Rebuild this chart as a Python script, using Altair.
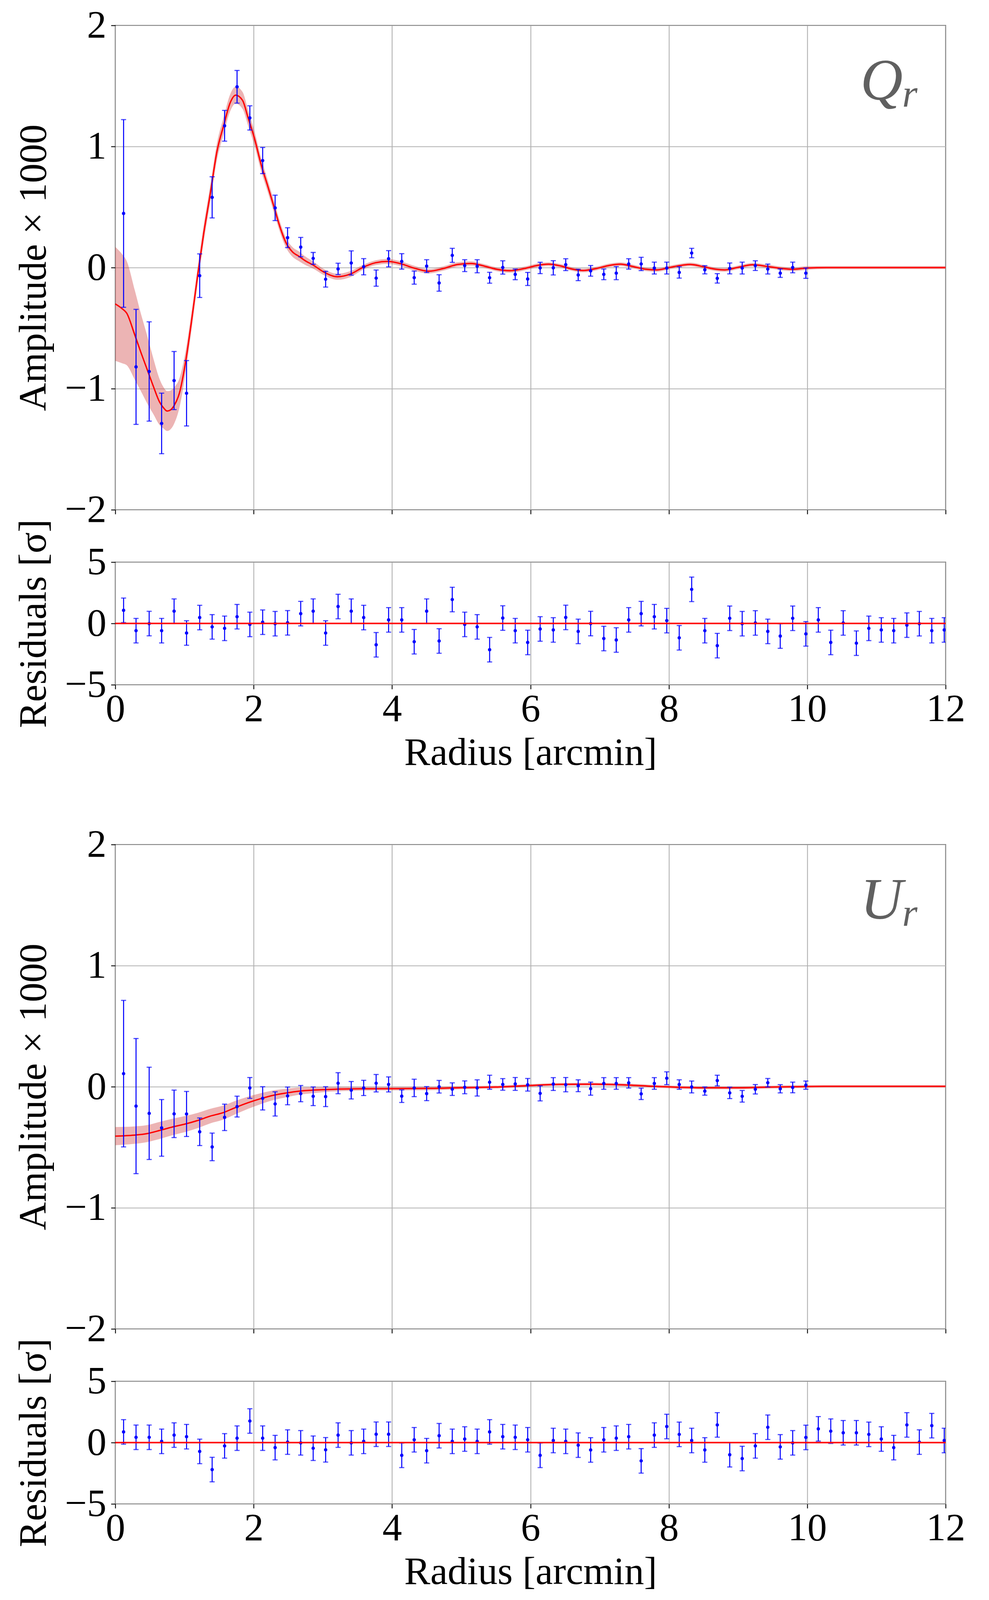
import altair as alt
import pandas as pd

# ---------------- data ----------------
radius = [0.12, 0.30, 0.49, 0.67, 0.85, 1.03, 1.22, 1.40, 1.58, 1.76,
          1.945, 2.13, 2.31, 2.49, 2.68, 2.86, 3.04, 3.22, 3.41, 3.59,
          3.77, 3.95, 4.14, 4.32, 4.50, 4.68, 4.87, 5.05, 5.23, 5.41,
          5.60, 5.78, 5.96, 6.14, 6.33, 6.51, 6.69, 6.87, 7.06, 7.24,
          7.42, 7.60, 7.79, 7.97, 8.15, 8.33, 8.52, 8.70, 8.88, 9.06,
          9.25, 9.43, 9.61, 9.79, 9.98, 10.16, 10.34, 10.52, 10.71, 10.89,
          11.07, 11.25, 11.44, 11.62, 11.80, 11.98]

q_amp = [0.447, -0.82, -0.858, -1.287, -0.933, -1.038, -0.067, 0.58, 1.171, 1.493,
         1.236, 0.884, 0.493, 0.247, 0.169, 0.076, -0.096, -0.011, 0.038, 0.007,
         -0.087, 0.073, 0.051, -0.083, 0.012, -0.127, 0.101, 0.016, 0.011, -0.084,
         0.001, -0.056, -0.094, -0.003, -0.002, 0.024, -0.061, -0.027, -0.056, -0.046,
         0.03, 0.03, -0.004, -0.004, -0.04, 0.12, -0.018, -0.089, -0.007, -0.004,
         0.016, -0.012, -0.046, 0.001, -0.046]
q_err = [0.775, 0.475, 0.41, 0.25, 0.24, 0.27, 0.18, 0.17, 0.127, 0.135,
         0.1, 0.108, 0.105, 0.082, 0.08, 0.049, 0.065, 0.047, 0.1, 0.067,
         0.067, 0.067, 0.064, 0.054, 0.053, 0.068, 0.058, 0.049, 0.054, 0.045,
         0.055, 0.044, 0.054, 0.047, 0.059, 0.049, 0.047, 0.044, 0.044, 0.054,
         0.043, 0.055, 0.049, 0.049, 0.047, 0.039, 0.034, 0.039, 0.045, 0.049,
         0.04, 0.041, 0.035, 0.044, 0.043]
q_res = [1.07, -0.59, -0.01, -0.59, 1.0, -0.78, 0.48, -0.28, -0.4, 0.55,
         -0.08, 0.1, -0.02, 0.05, 0.8, 1.0, -0.78, 1.38, 1.0, 0.48,
         -1.74, 0.29, 0.29, -1.49, 1.0, -1.43, 1.95, -0.08, -0.28, -2.14,
         0.44, -0.59, -1.55, -0.45, -0.53, 0.49, -0.65, -0.01, -1.23, -1.35,
         0.29, 0.8, 0.55, 0.23, -1.17, 2.78, -0.59, -1.81, 0.42, -0.02,
         0.04, -0.65, -1.03, 0.42, -0.85, 0.29, -1.55, 0.04, -1.61, -0.4,
         -0.53, -0.59, -0.14, -0.02, -0.59, -0.53]

u_amp = [0.108, -0.16, -0.22, -0.34, -0.224, -0.225, -0.372, -0.497, -0.253, -0.164,
         -0.01, -0.096, -0.142, -0.076, -0.057, -0.079, -0.082, 0.029, -0.029, -0.01,
         0.029, 0.019, -0.078, -0.01, -0.057, 0.0, -0.02, -0.005, -0.01, 0.037,
         0.019, 0.023, 0.016, -0.055, 0.022, 0.017, 0.008, -0.016, 0.027, 0.027,
         0.032, -0.059, 0.027, 0.07, 0.018, -0.002, -0.036, 0.051, -0.051, -0.079,
         -0.021, 0.033, -0.017, -0.006, 0.013]
u_err = [0.605, 0.558, 0.381, 0.234, 0.196, 0.186, 0.114, 0.114, 0.109, 0.086,
         0.086, 0.096, 0.1, 0.073, 0.067, 0.077, 0.082, 0.087, 0.072, 0.063,
         0.072, 0.062, 0.052, 0.072, 0.058, 0.052, 0.052, 0.053, 0.067, 0.058,
         0.048, 0.053, 0.052, 0.062, 0.053, 0.059, 0.049, 0.054, 0.048, 0.048,
         0.043, 0.047, 0.048, 0.053, 0.039, 0.049, 0.034, 0.044, 0.047, 0.048,
         0.039, 0.035, 0.034, 0.044, 0.034]
u_res = [0.87, 0.43, 0.43, 0.1, 0.61, 0.48, -0.72, -2.2, -0.27, 0.36,
         1.76, 0.36, -0.41, 0.04, -0.02, -0.46, -0.59, 0.61, -0.02, 0.1,
         0.68, 0.68, -1.04, 0.23, -0.66, 0.56, 0.1, 0.29, 0.1, 0.87,
         0.48, 0.43, 0.23, -1.04, 0.17, 0.1, -0.21, -0.6, 0.23, 0.36,
         0.48, -1.49, 0.61, 1.31, 0.67, 0.17, -0.6, 1.44, -0.99, -1.3,
         -0.27, 1.25, -0.35, -0.02, 0.42, 1.12, 0.93, 0.8, 0.8, 0.67,
         0.29, -0.41, 1.44, 0.04, 1.38, 0.17]

# best-fit model curves and their uncertainty half-widths
q_model_r = [0.0, 0.1, 0.165, 0.28, 0.37, 0.46, 0.55, 0.64, 0.70, 0.75,
             0.80, 0.85, 0.93, 1.01, 1.10, 1.19, 1.28, 1.37, 1.47, 1.57,
             1.66, 1.74, 1.84, 1.92, 2.01, 2.11, 2.20, 2.30, 2.38, 2.47,
             2.56, 2.66, 2.75, 2.85, 3.03, 3.21, 3.40, 3.58, 3.76, 3.94,
             4.13, 4.31, 4.53, 4.74, 4.95, 5.14, 5.33, 5.51, 5.70, 5.91,
             6.10, 6.26, 6.44, 6.60, 6.76, 6.95, 7.14, 7.30, 7.48, 7.67,
             7.83, 8.02, 8.20, 8.31, 8.50, 8.68, 8.81, 9.00, 9.21, 9.43,
             9.64, 9.80, 10.01, 10.28, 11.0, 12.0]
q_model = [-0.30, -0.34, -0.376, -0.553, -0.70, -0.84, -0.98, -1.11, -1.16, -1.185,
           -1.175, -1.14, -1.03, -0.80, -0.45, -0.067, 0.29, 0.60, 0.96, 1.18,
           1.36, 1.424, 1.38, 1.236, 1.07, 0.847, 0.68, 0.49, 0.336, 0.202,
           0.13, 0.091, 0.055, 0.024, -0.042, -0.076, -0.053, 0.002, 0.04, 0.051,
           0.031, -0.003, -0.03, -0.008, 0.026, 0.034, 0.013, -0.014, -0.026, -0.008,
           0.018, 0.028, 0.013, -0.012, -0.024, -0.008, 0.018, 0.028, 0.009, -0.014,
           -0.019, 0.002, 0.020, 0.026, 0.007, -0.014, -0.019, 0.002, 0.023, 0.009,
           -0.008, -0.014, -0.003, 0.0, 0.0, 0.0]
q_band = [0.47, 0.45, 0.43, 0.37, 0.32, 0.28, 0.23, 0.19, 0.17, 0.165,
          0.16, 0.15, 0.12, 0.09, 0.075, 0.07, 0.07, 0.07, 0.07, 0.07,
          0.07, 0.07, 0.07, 0.065, 0.06, 0.055, 0.05, 0.05, 0.045, 0.04,
          0.04, 0.04, 0.035, 0.03, 0.025, 0.025, 0.025, 0.02, 0.02, 0.02,
          0.02, 0.02, 0.018, 0.018, 0.018, 0.018, 0.016, 0.016, 0.016, 0.016,
          0.016, 0.015, 0.015, 0.015, 0.015, 0.015, 0.015, 0.015, 0.015, 0.015,
          0.015, 0.015, 0.015, 0.015, 0.015, 0.015, 0.015, 0.015, 0.015, 0.015,
          0.015, 0.015, 0.015, 0.012, 0.012, 0.012]

u_model_r = [0.0, 0.27, 0.46, 0.66, 0.85, 1.01, 1.19, 1.37, 1.56, 1.74,
             1.92, 2.10, 2.29, 2.47, 2.65, 2.84, 3.02, 3.20, 3.57, 4.0,
             4.56, 5.0, 5.56, 5.99, 6.41, 6.84, 7.26, 7.69, 8.11, 8.54,
             8.96, 9.39, 9.82, 10.24, 12.0]
u_model = [-0.408, -0.40, -0.387, -0.358, -0.329, -0.308, -0.279, -0.243, -0.214, -0.171,
           -0.132, -0.099, -0.07, -0.052, -0.037, -0.029, -0.024, -0.02, -0.017, -0.016,
           -0.014, -0.008, -0.002, 0.01, 0.019, 0.021, 0.017, 0.006, -0.004, -0.009,
           -0.009, -0.004, 0.0, 0.003, 0.003]
u_band = [0.075, 0.072, 0.07, 0.07, 0.068, 0.066, 0.063, 0.06, 0.058, 0.055,
          0.05, 0.045, 0.04, 0.035, 0.03, 0.025, 0.02, 0.018, 0.015, 0.015,
          0.015, 0.013, 0.012, 0.012, 0.012, 0.012, 0.012, 0.012, 0.012, 0.012,
          0.012, 0.012, 0.012, 0.01, 0.01]

x_ticks = [0, 2, 4, 6, 8, 10, 12]
amp_ticks = [-2, -1, 0, 1, 2]
res_ticks = [-5, 0, 5]

# ---------------- styling ----------------
FONT = "Liberation Serif"
W = 2125
HM = 1240
HR = 314
GAP = 134
BLUE = "#0000ff"
RED = "#ff0000"
TITLE_X = -158


def errorbars(df, X, Y):
    rule = alt.Chart(df).mark_rule(color=BLUE, strokeWidth=2.6, clip=True).encode(
        x=X("r:Q"), y=Y("lo:Q"), y2="hi:Q")
    cap_lo = alt.Chart(df).mark_tick(color=BLUE, orient="horizontal", size=13,
                                     thickness=2.8, clip=True).encode(
        x=X("r:Q"), y=Y("lo:Q"))
    cap_hi = alt.Chart(df).mark_tick(color=BLUE, orient="horizontal", size=13,
                                     thickness=2.8, clip=True).encode(
        x=X("r:Q"), y=Y("hi:Q"))
    dots = alt.Chart(df).mark_circle(color=BLUE, size=75, opacity=1, clip=True).encode(
        x=X("r:Q"), y=Y("v:Q"))
    return [rule, cap_lo, cap_hi, dots]


def make_enc(xaxis, ysc, yaxis):
    def X(f):
        return alt.X(f, scale=alt.Scale(domain=[0, 12], nice=False, zero=False), axis=xaxis)

    def Y(f):
        return alt.Y(f, scale=ysc, axis=yaxis)
    return X, Y


def main_panel(amp, err, mr, mv, mb, letter):
    n = len(amp)
    d = pd.DataFrame({"r": radius[:n], "v": amp,
                      "lo": [a - e for a, e in zip(amp, err)],
                      "hi": [a + e for a, e in zip(amp, err)]})
    m = pd.DataFrame({"r": mr, "v": mv,
                      "lo": [a - b for a, b in zip(mv, mb)],
                      "hi": [a + b for a, b in zip(mv, mb)]})
    ysc = alt.Scale(domain=[-2, 2], nice=False, zero=False)
    xaxis = alt.Axis(values=x_ticks, labels=False, title=None, grid=True)
    yaxis = alt.Axis(values=amp_ticks, title="Amplitude × 1000", grid=True,
                     titleX=TITLE_X, titleY=HM / 2, titleAngle=270,
                     titleBaseline="bottom", titleAlign="center")
    X, Y = make_enc(xaxis, ysc, yaxis)
    band = alt.Chart(m).mark_area(color="#cc3333", opacity=0.37,
                                  interpolate="monotone").encode(
        x=X("r:Q"), y=Y("lo:Q"), y2="hi:Q")
    line = alt.Chart(m).mark_line(color=RED, strokeWidth=3.5,
                                  interpolate="monotone").encode(
        x=X("r:Q"), y=Y("v:Q"))
    bars = errorbars(d, X, Y)
    big = alt.Chart(pd.DataFrame({"t": [letter]})).mark_text(
        font=FONT, fontStyle="italic", fontSize=150, color="#606060",
        align="left", baseline="alphabetic").encode(
        x=alt.value(1907), y=alt.value(190), text="t:N")
    sub = alt.Chart(pd.DataFrame({"t": ["r"]})).mark_text(
        font=FONT, fontStyle="italic", fontSize=100, color="#606060",
        align="left", baseline="alphabetic").encode(
        x=alt.value(2014), y=alt.value(208), text="t:N")
    return alt.layer(band, line, *bars, big, sub).properties(width=W, height=HM)


def resid_panel(res):
    d = pd.DataFrame({"r": radius[:len(res)], "v": res,
                      "lo": [v - 1 for v in res], "hi": [v + 1 for v in res],
                      "z": [0.0] * len(res)})
    ysc = alt.Scale(domain=[-5, 5], nice=False, zero=False)
    xaxis = alt.Axis(values=x_ticks, title="Radius [arcmin]", grid=True,
                     titleY=125, titleBaseline="top", format="d")
    yaxis = alt.Axis(values=res_ticks, title="Residuals [σ]", grid=True,
                     titleX=TITLE_X, titleY=HR / 2, titleAngle=270,
                     titleBaseline="bottom", titleAlign="center")
    X, Y = make_enc(xaxis, ysc, yaxis)
    bars = errorbars(d, X, Y)
    zero = alt.Chart(d).mark_rule(color=RED, strokeWidth=3.8).encode(y=Y("z:Q"))
    return alt.layer(*bars, zero).properties(width=W, height=HR)


# invisible block that separates the two figure halves
spacer = alt.Chart(pd.DataFrame({"s": [0]})).mark_point(opacity=0).properties(
    width=W, height=409 - 2 * GAP, view=alt.ViewBackground(strokeOpacity=0))

chart = alt.vconcat(
    main_panel(q_amp, q_err, q_model_r, q_model, q_band, "Q"),
    resid_panel(q_res),
    spacer,
    main_panel(u_amp, u_err, u_model_r, u_model, u_band, "U"),
    resid_panel(u_res),
    spacing=GAP, bounds="flush"
).properties(
    padding={"left": 26, "top": 5, "right": 5, "bottom": 5}
).configure_view(
    stroke="black", strokeWidth=2.2
).configure_axis(
    domain=False, tickColor="black", tickWidth=2.2, tickSize=11,
    labelFont=FONT, labelFontSize=100, labelColor="black",
    titleFont=FONT, titleFontSize=100, titleFontWeight="normal", titleColor="black",
    gridColor="#b0b0b0", gridWidth=2.2, labelFlush=False, labelOverlap=False
).configure_axisLeft(
    labelPadding=12
).configure_axisBottom(
    labelPadding=2
)

chart.save("out.html", embed_options={"renderer": "svg", "actions": False})
